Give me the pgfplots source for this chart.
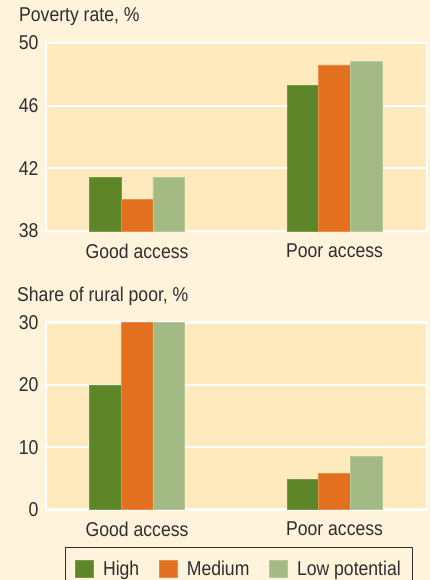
\documentclass[border=0pt]{standalone}
\usepackage{fontspec}
\setmainfont{Liberation Sans}[FakeStretch=0.88]
\usepackage{pgfplots}
\pgfplotsset{compat=1.18}

\definecolor{pagebg}{HTML}{FFF3DC}
\definecolor{plotbg}{HTML}{FEEABD}
\definecolor{hi}{HTML}{5C8628}
\definecolor{med}{HTML}{E3701F}
\definecolor{low}{HTML}{A4BA84}
\definecolor{ink}{HTML}{2E2E2E}

\newcommand{\chartfont}{\fontsize{20}{23}\selectfont}

\pgfplotsset{
  panel/.style={
    scale only axis,
    width=381pt,
    ybar=0pt, bar width=31.6pt,
    xmin=-0.461, xmax=1.468,
    xtick={0,1}, xticklabels={Good access, Poor access},
    axis background/.style={fill=plotbg},
    axis line style={white, line width=2.5pt},
    ymajorgrids, grid style={white, line width=2pt},
    major tick length=0pt,
    tick label style={font=\chartfont, text=ink},
    xticklabel style={yshift=-9pt},
    yticklabel style={xshift=-4pt},
    /pgf/number format/assume math mode=true,
  },
  bhi/.style={fill=hi, draw=hi!85!white, line width=0.6pt},
  bmed/.style={fill=med, draw=med!80!white, line width=0.6pt},
  blow/.style={fill=low, draw=low!80!white, line width=0.6pt},
}

\begin{document}
\begin{tikzpicture}
\fill[pagebg] (0,0) rectangle (430pt,-580pt);
\useasboundingbox (0,0) rectangle (430pt,-580pt);

\node[anchor=base west, font=\chartfont, text=ink, inner sep=0pt] at (19pt,-21.7pt) {Poverty rate, \%};
\node[anchor=base west, font=\chartfont, text=ink, inner sep=0pt] at (17pt,-301pt) {Share of rural poor, \%};

\begin{axis}[panel,
  at={(46pt,-231pt)}, anchor=south west,
  height=188pt,
  ymin=38, ymax=50, ytick={38,42,46,50},
]
\addplot[bhi] coordinates {(0,41.4) (1,47.3)};
\addplot[bmed] coordinates {(0,40.0) (1,48.6)};
\addplot[blow] coordinates {(0,41.4) (1,48.8)};
\end{axis}

\begin{axis}[panel,
  at={(46pt,-509.5pt)}, anchor=south west,
  height=187pt,
  ymin=0, ymax=30, ytick={0,10,20,30},
  legend columns=3,
  legend image code/.code={\fill[#1] (0pt,-8.5pt) rectangle (18pt,8.5pt);},
  legend style={at={(0.05,-0.203)}, anchor=north west,
    draw=ink, line width=0.8pt, fill=pagebg,
    font=\chartfont, text=ink,
    inner xsep=10pt, inner ysep=11pt,
    /tikz/every odd column/.append style={column sep=7pt},
    /tikz/every even column/.append style={column sep=18pt},
  },
]
\addplot[bhi] coordinates {(0,20) (1,4.8)};
\addplot[bmed] coordinates {(0,30) (1,5.8)};
\addplot[blow] coordinates {(0,30) (1,8.5)};
\legend{High, Medium, Low potential}
\end{axis}
\end{tikzpicture}
\end{document}
